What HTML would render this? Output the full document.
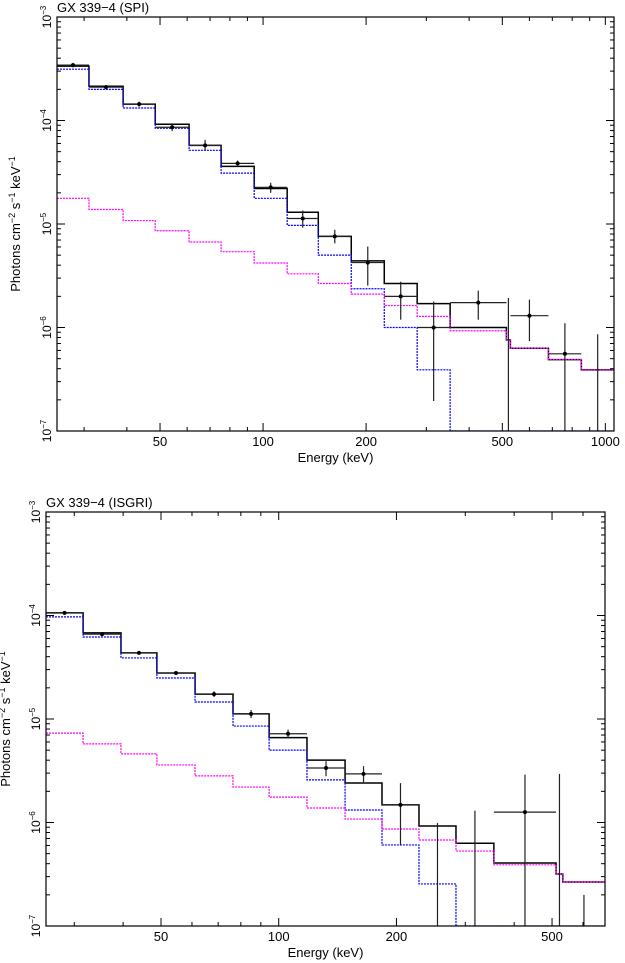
<!DOCTYPE html>
<html><head><meta charset="utf-8">
<style>
html,body{margin:0;padding:0;background:#fff;}
svg{display:block;font-family:"Liberation Sans",Arial,sans-serif;}
</style></head>
<body>
<svg id="chart" width="625" height="963" viewBox="0 0 625 963" xmlns="http://www.w3.org/2000/svg"></svg>
<script>
// ---------- SPI panel data ----------
const spiEdges = [25,31.0,39.0,48.4,60.8,75.4,94.2,117.6,145,181,226,282,352,514,528,682,851,1060];
const spiModel = [3.35e-4,2.14e-4,1.44e-4,9.2e-5,5.75e-5,3.6e-5,2.2e-5,1.3e-5,7.6e-6,4.4e-6,2.66e-6,1.7e-6,1.0e-6,7.6e-7,6.3e-7,4.9e-7,3.9e-7];
const spiComp  = [3.13e-4,2.0e-4,1.32e-4,8.4e-5,5.15e-5,3.1e-5,1.77e-5,9.7e-6,5.0e-6,2.37e-6,1.0e-6,3.9e-7,1e-8,1e-8,1e-8,1e-8,1e-8];
const spiPow   = [1.77e-5,1.38e-5,1.08e-5,8.6e-6,6.7e-6,5.4e-6,4.2e-6,3.3e-6,2.66e-6,2.1e-6,1.63e-6,1.28e-6,9.3e-7,7.6e-7,6.3e-7,4.9e-7,3.9e-7];
const spiData  = [3.43e-4,2.1e-4,1.44e-4,8.6e-5,5.75e-5,3.85e-5,2.26e-5,1.13e-5,7.6e-6,4.24e-6,2.0e-6,1.0e-6,1.74e-6,null,1.3e-6,5.57e-7,null];
const spiErrHi = [3.6e-4,2.2e-4,1.52e-4,9.4e-5,6.5e-5,4.1e-5,2.5e-5,1.35e-5,8.8e-6,6.05e-6,2.77e-6,1.78e-6,2.27e-6,1.93e-6,1.86e-6,1.1e-6,8.6e-7];
const spiErrLo = [3.26e-4,2.0e-4,1.36e-4,7.9e-5,5.1e-5,3.6e-5,2.0e-5,9.2e-6,6.5e-6,2.54e-6,1.19e-6,1.95e-7,1.19e-6,1e-8,7.4e-7,1e-8,1e-8];
// ---------- ISGRI panel data ----------
const isgEdges = [25.4,31.6,39.5,48.8,61.1,76.4,94.5,118.1,147.8,183.7,228.4,284,355,512,533,683];
const isgModel = [1.06e-4,6.8e-5,4.35e-5,2.78e-5,1.74e-5,1.12e-5,6.6e-6,4.0e-6,2.41e-6,1.48e-6,9.25e-7,6.3e-7,4.06e-7,3.18e-7,2.66e-7];
const isgComp  = [9.7e-5,6.2e-5,3.89e-5,2.49e-5,1.46e-5,8.55e-6,5.0e-6,2.58e-6,1.32e-6,6.07e-7,2.55e-7,1e-8,1e-8,1e-8,1e-8];
const isgPow   = [7.3e-6,5.75e-6,4.6e-6,3.6e-6,2.82e-6,2.2e-6,1.76e-6,1.38e-6,1.08e-6,8.65e-7,6.77e-7,5.3e-7,3.9e-7,3.18e-7,2.66e-7];
const isgData  = [1.06e-4,6.6e-5,4.35e-5,2.78e-5,1.74e-5,1.12e-5,7.2e-6,3.36e-6,2.95e-6,1.48e-6,null,null,1.26e-6,null,null];
const isgErrHi = [1.1e-4,6.9e-5,4.5e-5,2.9e-5,1.85e-5,1.22e-5,7.9e-6,3.9e-6,3.5e-6,2.4e-6,9.9e-7,1.3e-6,2.9e-6,2.95e-6,2.0e-7];
const isgErrLo = [1.02e-4,6.3e-5,4.2e-5,2.66e-5,1.63e-5,1.02e-5,6.5e-6,2.8e-6,2.45e-6,6.0e-7,1e-8,1e-8,1e-8,1e-8,1e-8];
const xTickMajor = [50,100,200,500,1000];
const xTickMinor = [30,40,60,70,80,90,300,400,600,700,800,900];
const yDecades = [-3,-4,-5,-6,-7];

const NS="http://www.w3.org/2000/svg";
const svg=document.getElementById('chart');
function mk(tag,attrs,parent){const e=document.createElementNS(NS,tag);for(const k in attrs)e.setAttribute(k,attrs[k]);(parent||svg).appendChild(e);return e;}

function panel(cfg){
  const g=mk('g',{});
  
  
  const X=e=>cfg.x0+(Math.log10(e)-Math.log10(cfg.emin))*(cfg.x1-cfg.x0)/(Math.log10(cfg.emax)-Math.log10(cfg.emin));
  const Y=v=>{let l=Math.log10(Math.max(v,1e-8));l=Math.max(l,-7);return cfg.y0+(-3-l)*(cfg.y1-cfg.y0)/4;};
  const clipId=cfg.name+'-clip';
  const cp=mk('clipPath',{id:clipId},g);mk('rect',{x:cfg.x0,y:cfg.y0,width:cfg.x1-cfg.x0,height:cfg.y1-cfg.y0},cp);
  const plot=mk('g',{'clip-path':'url(#'+clipId+')'},g);
  function step(edges,vals,color,dash,width,nm){
    let d='';
    for(let i=0;i<vals.length;i++){
      const y=Y(vals[i]);
      d+=(i===0?'M':'L')+X(edges[i])+','+y+'L'+X(edges[i+1])+','+y;
    }
    const p=mk('path',{d:d,fill:'none',stroke:color,'stroke-width':width},plot);
    if(dash)p.setAttribute('stroke-dasharray',dash);
    
    
  }
  step(cfg.edges,cfg.model,'#000','',1.5,'total-model');
  step(cfg.edges,cfg.comp,'#0000ff','2,1',1.2,'comptonization-model');
  step(cfg.edges,cfg.pow,'#ff00ff','2,1',1.2,'powerlaw-model');
  for(let i=0;i<cfg.data.length;i++){
    const lo=cfg.edges[i],hi=cfg.edges[i+1],c=Math.sqrt(lo*hi);
    const eg=mk('g',{},plot);
    
    
    const xc=X(c);
    mk('line',{x1:xc,x2:xc,y1:Y(cfg.hiE[i]),y2:Y(cfg.loE[i]),stroke:'#222','stroke-width':1.2},eg);
    if(cfg.data[i]!==null){
      const y=Y(cfg.data[i]);
      mk('line',{x1:X(lo),x2:X(hi),y1:y,y2:y,stroke:'#222','stroke-width':1.2},eg);
      mk('circle',{cx:xc,cy:y,r:2,fill:'#000'},eg);
    }
  }
  const fr=mk('rect',{x:cfg.x0,y:cfg.y0,width:cfg.x1-cfg.x0,height:cfg.y1-cfg.y0,fill:'none',stroke:'#000','stroke-width':1.2},g);
  
  const xt=mk('g',{},g);
  xTickMajor.forEach(t=>{if(t>cfg.emax)return;const x=X(t);
    mk('line',{x1:x,x2:x,y1:cfg.y1,y2:cfg.y1-8,stroke:'#000'},xt);
    mk('line',{x1:x,x2:x,y1:cfg.y0,y2:cfg.y0+8,stroke:'#000'},xt);
    const tx=mk('text',{x:x,y:cfg.y1+15,'text-anchor':'middle','font-size':13},xt);tx.textContent=t;});
  xTickMinor.forEach(t=>{if(t>cfg.emax||t<cfg.emin)return;const x=X(t);
    mk('line',{x1:x,x2:x,y1:cfg.y1,y2:cfg.y1-4,stroke:'#000'},xt);
    mk('line',{x1:x,x2:x,y1:cfg.y0,y2:cfg.y0+4,stroke:'#000'},xt);});
  const yt=mk('g',{},g);
  yDecades.forEach(d=>{const y=Y(Math.pow(10,d));
    mk('line',{x1:cfg.x0,x2:cfg.x0+8,y1:y,y2:y,stroke:'#000'},yt);
    mk('line',{x1:cfg.x1,x2:cfg.x1-8,y1:y,y2:y,stroke:'#000'},yt);
    const tx=mk('text',{transform:'translate('+(cfg.x0-6)+','+y+') rotate(-90)','text-anchor':'middle','font-size':12},yt);
    tx.appendChild(document.createTextNode('10'));
    const sp=mk('tspan',{'font-size':8,dy:-5},tx);sp.textContent='\u2212'+(-d);
    if(d>-7)for(let m=2;m<=9;m++){const ym=Y(m*Math.pow(10,d-1));
      mk('line',{x1:cfg.x0,x2:cfg.x0+4,y1:ym,y2:ym,stroke:'#000'},yt);
      mk('line',{x1:cfg.x1,x2:cfg.x1-4,y1:ym,y2:ym,stroke:'#000'},yt);}
  });
  const title=mk('text',{x:cfg.x0,y:cfg.y0-5,'font-size':13},g);title.textContent=cfg.title;
  
  const xl=mk('text',{x:(cfg.x0+cfg.x1)/2,y:cfg.y1+31,'text-anchor':'middle','font-size':13},g);xl.textContent='Energy (keV)';
  
  const yl=mk('text',{transform:'translate('+cfg.ylx+','+((cfg.y0+cfg.y1)/2)+') rotate(-90)','text-anchor':'middle','font-size':13},g);
  
  const parts=[['Photons cm',0],['\u22122',1],[' s',0],['\u22121',1],[' keV',0],['\u22121',1]];
  parts.forEach(p=>{const s=mk('tspan',{},yl);if(p[1]){s.setAttribute('font-size',9);s.setAttribute('dy',-5);}else if(s.previousSibling&&s!==yl.firstChild){s.setAttribute('dy',5);}s.textContent=p[0];});
}
panel({name:'spi-panel',title:'GX 339\u22124 (SPI)',x0:57,x1:614,y0:17,y1:431,emin:25,emax:1060,ylx:20,
  edges:spiEdges,model:spiModel,comp:spiComp,pow:spiPow,data:spiData,hiE:spiErrHi,loE:spiErrLo});
panel({name:'isgri-panel',title:'GX 339\u22124 (ISGRI)',x0:46,x1:605,y0:512,y1:926,emin:25.4,emax:683,ylx:10,
  edges:isgEdges,model:isgModel,comp:isgComp,pow:isgPow,data:isgData,hiE:isgErrHi,loE:isgErrLo});
</script>
</body></html>
